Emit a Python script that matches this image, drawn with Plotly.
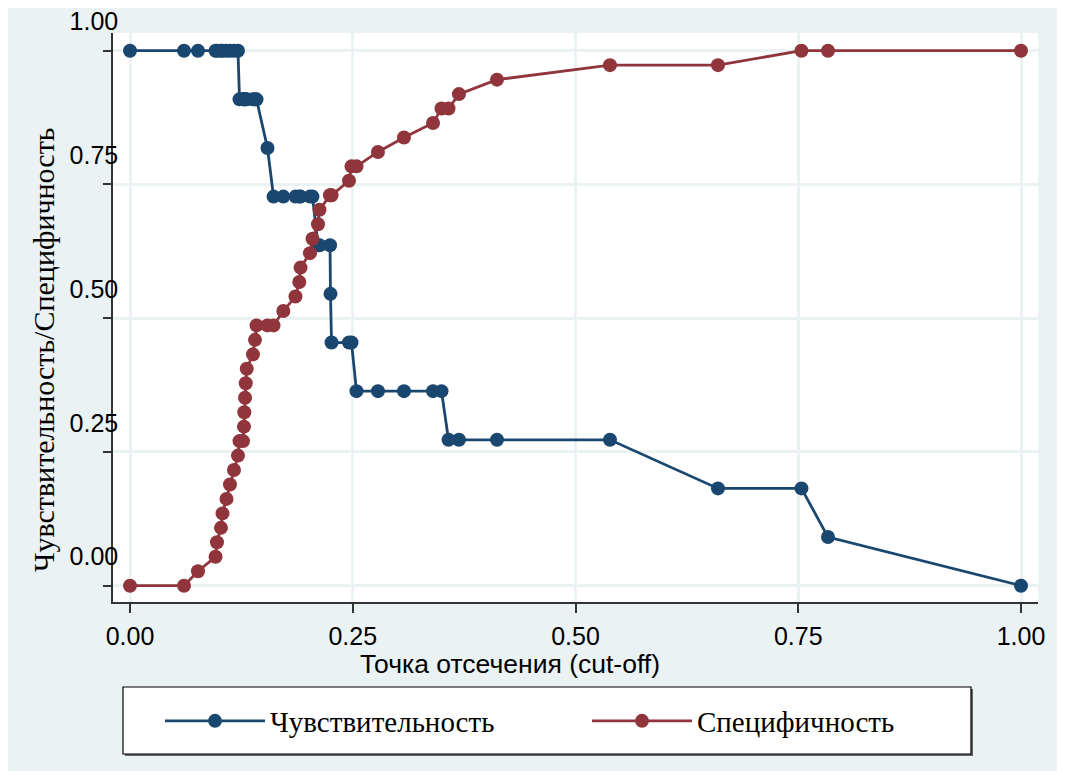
import plotly.graph_objects as go

# Cut-off points (x) with sensitivity and specificity at each
cutoff = [0.0000, 0.0606, 0.0763, 0.0960, 0.0976, 0.1021, 0.1038, 0.1083, 0.1122, 0.1167,
          0.1212, 0.1229, 0.1268, 0.1279, 0.1283, 0.1291, 0.1299, 0.1310, 0.1380, 0.1403,
          0.1420, 0.1543, 0.1611, 0.1721, 0.1857, 0.1900, 0.1914, 0.2020, 0.2048, 0.2110,
          0.2127, 0.2245, 0.2250, 0.2262, 0.2458, 0.2486, 0.2542, 0.2783, 0.3075, 0.3401,
          0.3496, 0.3575, 0.3692, 0.4119, 0.5387, 0.6599, 0.7536, 0.7834, 1.0000]

sensitivity = [1.0, 1.0, 1.0, 1.0, 1.0, 1.0, 1.0, 1.0, 1.0, 1.0,
               1.0, 0.9091, 0.9091, 0.9091, 0.9091, 0.9091, 0.9091, 0.9091, 0.9091, 0.9091,
               0.9091, 0.8182, 0.7273, 0.7273, 0.7273, 0.7273, 0.7273, 0.7273, 0.7273, 0.6364,
               0.6364, 0.6364, 0.5455, 0.4545, 0.4545, 0.4545, 0.3636, 0.3636, 0.3636, 0.3636,
               0.3636, 0.2727, 0.2727, 0.2727, 0.2727, 0.1818, 0.1818, 0.0909, 0.0]

specificity = [0.0, 0.0, 0.0270, 0.0541, 0.0811, 0.1081, 0.1351, 0.1622, 0.1892, 0.2162,
               0.2432, 0.2703, 0.2703, 0.2973, 0.3243, 0.3514, 0.3784, 0.4054, 0.4324, 0.4595,
               0.4865, 0.4865, 0.4865, 0.5135, 0.5405, 0.5676, 0.5946, 0.6216, 0.6486, 0.6757,
               0.7027, 0.7297, 0.7297, 0.7297, 0.7568, 0.7838, 0.7838, 0.8108, 0.8378, 0.8649,
               0.8919, 0.8919, 0.9189, 0.9459, 0.9730, 0.9730, 1.0, 1.0, 1.0]

tick_vals = [0, 0.25, 0.5, 0.75, 1.0]
tick_text = ["0.00", "0.25", "0.50", "0.75", "1.00"]

BLUE = "#1A476F"
RED = "#90353B"
BG = "#EAF2F3"
SANS = "Liberation Sans, Arial, sans-serif"
SERIF = "Liberation Serif, Times New Roman, serif"

fig = go.Figure()
fig.add_trace(go.Scatter(x=cutoff, y=sensitivity, mode="lines+markers",
                         name="Чувствительность", legend="legend",
                         line=dict(color=BLUE, width=2.8),
                         marker=dict(color=BLUE, size=14)))
fig.add_trace(go.Scatter(x=cutoff, y=specificity, mode="lines+markers",
                         name="Специфичность", legend="legend2",
                         line=dict(color=RED, width=2.8),
                         marker=dict(color=RED, size=14)))

# plot area on the page in pixels: x 113..1038, y 33..602
PW, PH = 925.0, 569.0
def px(x):
    return (x - 113) / PW
def py(y):
    return (602 - y) / PH

shapes = [
    # legend box shadow and box
    dict(type="rect", xref="paper", yref="paper", x0=px(125), x1=px(973), y0=py(756), y1=py(689),
         fillcolor="#666666", line=dict(width=0), layer="below"),
    dict(type="rect", xref="paper", yref="paper", x0=px(123), x1=px(971), y0=py(754), y1=py(687),
         fillcolor="white", line=dict(color="black", width=1.2), layer="below"),
]

annotations = [
    dict(text="Точка отсечения (cut-off)", xref="paper", yref="paper",
         x=px(510), y=py(664), xanchor="center", yanchor="middle", showarrow=False,
         font=dict(family=SANS, size=26.5, color="black")),
    dict(text="Чувствительность/Специфичность", xref="paper", yref="paper",
         x=px(43), y=py(350), xanchor="center", yanchor="middle", showarrow=False,
         textangle=-90, font=dict(family=SERIF, size=30, color="black")),
]

legend_common = dict(orientation="h", yanchor="middle", xanchor="left",
                     bgcolor="rgba(0,0,0,0)", borderwidth=0,
                     font=dict(family=SERIF, size=29, color="black"),
                     itemwidth=100)

fig.update_layout(
    width=1065, height=771,
    margin=dict(l=105, r=35, t=25, b=177, autoexpand=False),
    paper_bgcolor=BG, plot_bgcolor="white",
    shapes=shapes, annotations=annotations,
    showlegend=True,
    legend=dict(x=px(160), y=py(721), **legend_common),
    legend2=dict(x=px(587), y=py(721), **legend_common),
    xaxis=dict(range=[-0.01908, 1.01908], tickvals=tick_vals, ticktext=tick_text,
               showgrid=True, gridcolor=BG, gridwidth=2.5, zeroline=False,
               showline=True, linecolor="#333333", linewidth=1.5,
               ticks="outside", ticklen=9, tickwidth=1.5, tickcolor="#333333",
               tickfont=dict(family=SANS, size=25, color="black"),
               ticklabelstandoff=2, automargin=False),
    yaxis=dict(range=[-0.0305, 1.0331], tickvals=tick_vals, ticktext=tick_text,
               showgrid=True, gridcolor=BG, gridwidth=2.5, zeroline=False,
               showline=True, linecolor="#333333", linewidth=1.5,
               ticks="outside", ticklen=8, tickwidth=1.5, tickcolor="#333333",
               tickfont=dict(family=SANS, size=25, color="black"),
               ticklabelshift=-29, ticklabelstandoff=-20, ticklabeloverflow="allow",
               automargin=False),
)

fig.write_html("out.html")
